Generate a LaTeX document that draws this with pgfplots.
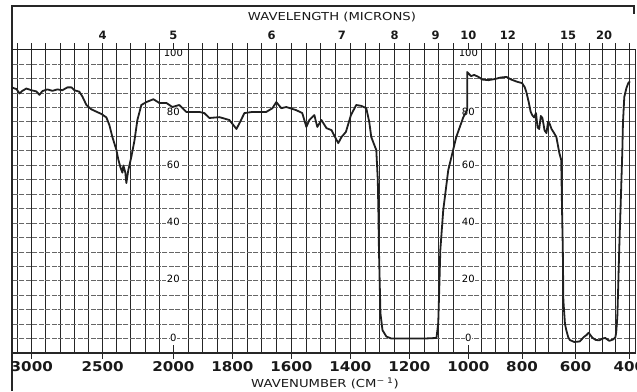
\documentclass[border=0pt]{standalone}
\usepackage{pgfplots}
\usepackage{pgfplotstable}
\pgfplotsset{compat=1.18}
\usepackage{fontspec}
\setmainfont{DejaVu Sans}
\newfontfamily\widef{DejaVu Sans}[FakeStretch=1.2]
\newfontfamily\tickf{DejaVu Sans}[FakeStretch=1.12]

\pgfplotstableread{
nu T
3144 86.9
3108 86.3
3087 84.8
3066 85.7
3038 86.5
3003 85.9
2967 85.5
2946 84.3
2925 85.6
2890 86.2
2854 85.7
2819 86.2
2784 85.9
2748 86.9
2720 86.9
2699 85.9
2664 85.4
2642 83.7
2614 80.8
2579 79.3
2544 78.5
2508 77.7
2473 76.5
2452 73.9
2431 69.8
2402 65.2
2388 61.8
2374 59.3
2360 57.4
2353 59.9
2339 57.4
2332 53.8
2318 58.3
2297 62.8
2275 68.4
2254 75.6
2226 80.8
2191 81.8
2141 82.8
2099 81.5
2049 81.5
2007 80.1
1980 80.8
1956 78.4
1912 78.4
1895 78.0
1878 76.3
1844 76.6
1810 75.6
1786 72.5
1776 74.5
1759 78.0
1732 78.4
1685 78.4
1664 79.7
1651 81.8
1634 79.7
1617 80.1
1583 79.0
1563 78.0
1549 73.2
1539 75.6
1522 77.3
1512 73.2
1498 75.6
1481 72.8
1464 72.1
1441 67.6
1430 69.7
1415 71.5
1398 77.3
1380 80.8
1363 80.5
1346 79.7
1336 75.0
1329 69.7
1312 65.2
1307 55.0
1305 44.5
1303 30.6
1298 8.8
1291 2.9
1278 0.7
1261 0.0
1200 0.0
1150 0.0
1108 0.2
1102 5.4
1098 19.2
1095 30.6
1085 44.5
1068 58.3
1041 69.7
1017 76.6
1004 79.0
1004 92.2
990 90.8
978 91.2
962 90.5
948 89.6
925 89.4
900 89.8
880 90.3
858 90.5
840 89.6
817 88.8
800 88.4
790 87.0
784 85.3
775 81.8
768 78.5
762 77.3
755 76.5
748 78.0
742 73.0
736 72.5
730 77.0
724 76.3
716 72.0
709 71.1
703 75.0
698 74.5
690 72.5
680 71.0
672 69.7
661 64.2
654 61.8
651 45.0
648 30.6
646 13.3
640 5.0
635 2.9
628 0.5
622 -0.5
605 -1.2
585 -1.0
570 0.5
560 1.2
552 2.0
546 1.3
538 0.3
525 -0.5
512 -0.6
500 0.0
490 0.2
475 -0.8
460 -0.3
452 0.5
449 2.3
445 7.4
441 20.0
438 30.6
433 45.0
430 53.8
426 66.0
424 74.6
419 83.6
411 86.7
404 88.4
398 89.0
}\spectrum

\pgfplotsset{
  chartgeom/.style={
    at={(12pt,38pt)}, anchor=south west, scale only axis,
    width=623.3pt, height=303.5pt, x dir=reverse,
    xmin=434, xmax=2547, ymin=-5, ymax=100,
  },
}
\tikzset{pctlab/.style={font=\fontsize{10}{11}\selectfont, text=black, fill=white, inner sep=0.5pt}}

\begin{document}
\begin{tikzpicture}[x=1pt,y=1pt]
\path[use as bounding box] (0,0) rectangle (637,391);
\draw[line width=1.3pt, black!85] (12,0) -- (12,385) -- (634,385) -- (634,377);
\node[font=\widef\fontsize{11}{12}\selectfont, text=black!90] at (332,374) {WAVELENGTH (MICRONS)};
\node[font=\widef\fontsize{11}{12}\selectfont, text=black!90] at (325,8) {WAVENUMBER (CM\textsuperscript{− 1})};

% main axis: grid, wavenumber labels, data
\begin{axis}[chartgeom,
  xtick={2480,2240,2000,1800,1600,1400,1200,1000,818,636,454},
  xticklabels={3000,2500,2000,1800,1600,1400,1200,1000,800,600,400},
  minor xtick={2528,2480,2432,2384,2336,2288,2240,2192,2144,2096,2048,
    1950,1900,1850,1800,1750,1700,1650,1600,1550,1500,1450,1400,1350,1300,1250,1200,1150,1100,1050,
    954.5,909,863.5,818,772.5,727,681.5,636,590.5,545,499.5,454},
  xminorgrids=true,
  minor tick length=0pt,
  major tick length=6pt,
  tick align=outside,
  xtick pos=left,
  xtick style={line width=1pt, black!85},
  xticklabel style={font=\tickf\bfseries\fontsize{13.5}{14}\selectfont, text=black!90, anchor=base, yshift=-12pt},
  ytick={0,5,...,95},
  yticklabels={},
  ymajorgrids=true,
  ytick style={draw=none},
  x grid style={black!85, line width=1pt},
  y grid style={black!60, line width=0.65pt, dash pattern=on 5pt off 1.5pt},
  axis line style={line width=1.3pt, black!85},
]
\draw[black!85, line width=1pt] (axis cs:2000,-5) -- (axis cs:2000,-2.2);
\draw[black!85, line width=1pt] (axis cs:1000,-5) -- (axis cs:1000,-2.2);
\node[pctlab] at (axis cs:2000,98.8) {100};
\node[pctlab] at (axis cs:2000,78.5) {80};
\node[pctlab] at (axis cs:2000,60) {60};
\node[pctlab] at (axis cs:2000,40.3) {40};
\node[pctlab] at (axis cs:2000,20.6) {20};
\node[pctlab] at (axis cs:2000,0.4) {0};
\node[pctlab] at (axis cs:1000,98.8) {100};
\node[pctlab] at (axis cs:1000,78.5) {80};
\node[pctlab] at (axis cs:1000,60) {60};
\node[pctlab] at (axis cs:1000,40.3) {40};
\node[pctlab] at (axis cs:1000,20.6) {20};
\node[pctlab] at (axis cs:1000,0.4) {0};
\addplot[line width=1.8pt, black!88, line join=round, no markers]
  table[x expr={\thisrow{nu}-0.52*max(\thisrow{nu}-2000,0)+0.09*max(1000-\thisrow{nu},0)}, y=T] {\spectrum};
\end{axis}

% top tick extensions of the grid lines
\begin{axis}[chartgeom,
  axis y line=none, axis x line*=top,
  x axis line style={-, line width=1.7pt, black!88},
  xtick={2528,2480,2432,2384,2336,2288,2240,2192,2144,2096,2048,2000,
    1950,1900,1850,1800,1750,1700,1650,1600,1550,1500,1450,1400,1350,1300,1250,1200,1150,1100,1050,1000,
    954.5,909,863.5,818,772.5,727,681.5,636,590.5,545,499.5,454},
  xticklabels={},
  tick align=outside, major tick length=6pt,
  xtick style={line width=1pt, black!85},
]
\end{axis}

% wavelength labels
\begin{axis}[chartgeom,
  axis y line=none, axis x line*=top,
  x axis line style={draw=none},
  xtick={2240,2000,1666.7,1428.6,1250,1111.1,1000,866,662,540},
  xticklabels={4,5,6,7,8,9,10,12,15,20},
  major tick length=0pt, xtick style={draw=none},
  xticklabel style={font=\bfseries\fontsize{11.5}{12}\selectfont, text=black!90, anchor=base, yshift=10pt},
]
\end{axis}
\end{tikzpicture}
\end{document}
